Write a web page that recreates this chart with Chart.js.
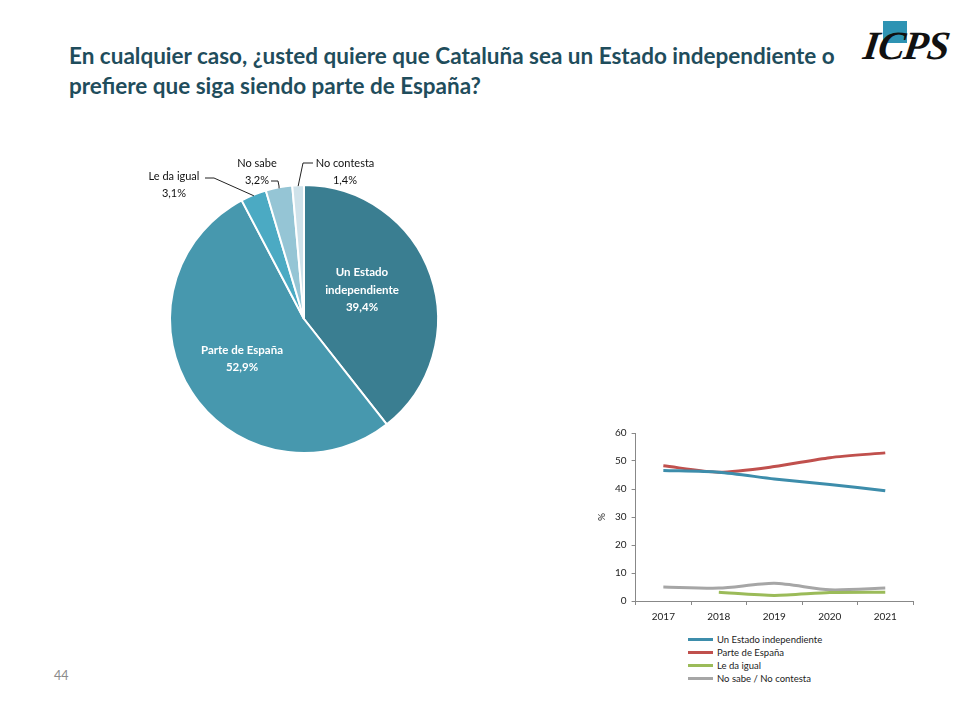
<!DOCTYPE html>
<html><head><meta charset="utf-8">
<script src="https://cdn.jsdelivr.net/npm/chart.js@4"></script>
<style>
html,body{margin:0;padding:0;background:#fff;width:975px;height:708px;overflow:hidden;position:relative;font-family:Lato,"Liberation Sans",sans-serif;}
#title{position:absolute;left:69px;top:41px;width:800px;font-weight:bold;font-size:22.5px;line-height:30px;color:#1f4d5c;}
#logoSq{position:absolute;left:883px;top:21px;width:24px;height:22px;background:#2e93b3;}
#logoTx{position:absolute;left:864px;top:22px;font-family:"Liberation Serif",serif;font-style:italic;font-weight:bold;font-size:40px;color:#111;letter-spacing:-1px;transform:skewX(-8deg);}
#page{position:absolute;left:54px;top:668px;font-size:12.5px;color:#8a8a8a;}
#pieBox{position:absolute;left:120px;top:140px;width:370px;height:340px;}
#lineBox{position:absolute;left:596px;top:422px;width:325px;height:207px;}
#legend{position:absolute;left:688px;top:633px;font-size:9.5px;color:#222;line-height:13px;}
#legend .it{display:flex;align-items:center;height:13px;}
#legend .ln{width:25px;height:3px;margin-right:4px;}
</style></head><body>
<div id="title">En cualquier caso, ¿usted quiere que Cataluña sea un Estado independiente o prefiere que siga siendo parte de España?</div>
<div id="logoSq"></div><div id="logoTx">ICPS</div>
<div id="page">44</div>
<div id="pieBox"><canvas id="pie"></canvas></div>
<div id="lineBox"><canvas id="line"></canvas></div>
<div id="legend"></div>
<script>
// ---- Pie data (2021) ----
const pieLabels = ["Un Estado independiente", "Parte de España", "Le da igual", "No sabe", "No contesta"];
const pieValues = [39.4, 52.9, 3.1, 3.2, 1.4];
const pieColors = ["#3a7e91", "#4798ae", "#4baac3", "#95c5d5", "#cfe2ea"];

// ---- Line data ----
const years = ["2017", "2018", "2019", "2020", "2021"];
const seriesIndep = [46.6, 46.0, 43.6, 41.6, 39.4];
const seriesEspana = [48.3, 46.0, 48.0, 51.2, 52.9];
const seriesIgual = [null, 3.1, 2.0, 3.0, 3.1];
const seriesNsNc = [5.0, 4.6, 6.3, 4.0, 4.6];
const lineNames = ["Un Estado independiente", "Parte de España", "Le da igual", "No sabe / No contesta"];
const lineColors = ["#3d8dab", "#c0504d", "#9bbb59", "#a6a6a6"];

const fmt = v => v.toFixed(1).replace('.', ',') + '%';

// inside labels: lines of text per slice (for big slices), offsets from centre
const insideLines = {0: ["Un Estado", "independiente"], 1: ["Parte de España"]};
const insidePos = {0: [58, -29], 1: [-62, 40]};
// outside labels: text anchor offsets and leader config
const outsideCfg = {
  2: {name: "Le da igual", tx: -130, ty: -143, line: [[-99,-141],[-90,-141]]},
  3: {name: "No sabe", tx: -47, ty: -156, line: [[-33,-138],[-26,-138],[-25,-133]]},
  4: {name: "No contesta", tx: 41, ty: -156, line: [[9,-156],[-1,-156]]}
};

const pieLabelPlugin = {
  id: 'pieLabels',
  afterDatasetsDraw(chart) {
    const ctx = chart.ctx;
    const meta = chart.getDatasetMeta(0);
    ctx.save();
    ctx.textAlign = 'center';
    ctx.textBaseline = 'middle';
    meta.data.forEach((arc, i) => {
      const p = arc.getProps(['x','y','startAngle','endAngle','outerRadius'], true);
      const mid = (p.startAngle + p.endAngle) / 2;
      const val = chart.data.datasets[0].data[i];
      if (insideLines[i]) {
        const cx = p.x + insidePos[i][0];
        const cy = p.y + insidePos[i][1];
        const lines = insideLines[i].concat([fmt(val)]);
        ctx.fillStyle = '#ffffff';
        ctx.font = 'bold 11.5px Lato, "Liberation Sans", sans-serif';
        const h = 17.5;
        lines.forEach((t, k) => ctx.fillText(t, cx, cy + (k - (lines.length - 1) / 2) * h));
      } else if (outsideCfg[i]) {
        const c = outsideCfg[i];
        const ex = p.x + Math.cos(mid) * (p.outerRadius - 1);
        const ey = p.y + Math.sin(mid) * (p.outerRadius - 1);
        ctx.strokeStyle = '#222';
        ctx.lineWidth = 1;
        ctx.beginPath();
        ctx.moveTo(ex, ey);
        const pts = c.line.slice().reverse();
        pts.forEach(q => ctx.lineTo(p.x + q[0], p.y + q[1]));
        ctx.stroke();
        ctx.fillStyle = '#111';
        ctx.font = '11px Lato, "Liberation Sans", sans-serif';
        ctx.fillText(c.name, p.x + c.tx, p.y + c.ty);
        ctx.fillText(fmt(val), p.x + c.tx, p.y + c.ty + 17);
      }
    });
    ctx.restore();
  }
};

new Chart(document.getElementById('pie'), {
  type: 'pie',
  data: {labels: pieLabels, datasets: [{data: pieValues, backgroundColor: pieColors, borderColor: '#ffffff', borderWidth: 2}]},
  options: {
    responsive: true, maintainAspectRatio: false, animation: false,
    layout: {padding: {left: 49, right: 51, top: 44, bottom: 26}},
    plugins: {legend: {display: false}, tooltip: {enabled: false}}
  },
  plugins: [pieLabelPlugin]
});

const lineData = [seriesIndep, seriesEspana, seriesIgual, seriesNsNc];
const lineChart = new Chart(document.getElementById('line'), {
  type: 'line',
  data: {
    labels: years,
    datasets: lineNames.map((n, i) => ({
      label: n, data: lineData[i], borderColor: lineColors[i], backgroundColor: lineColors[i],
      borderWidth: 3, pointRadius: 0, tension: 0.25, spanGaps: false, fill: false
    }))
  },
  options: {
    responsive: true, maintainAspectRatio: false, animation: false,
    layout: {padding: {left: 0, right: 8, top: 1, bottom: 0}},
    plugins: {legend: {display: false}, tooltip: {enabled: false}},
    scales: {
      x: {
        offset: true,
        grid: {display: true, offset: true, drawOnChartArea: false, drawTicks: true, tickLength: 4, color: '#888'},
        border: {display: true, color: '#888', width: 1},
        ticks: {color: '#222', font: {family: 'Lato', size: 10}, padding: 6, maxRotation: 0}
      },
      y: {
        min: 0, max: 60,
        grid: {display: true, drawOnChartArea: false, drawTicks: true, tickLength: 4, color: '#888'},
        border: {display: true, color: '#888', width: 1},
        ticks: {stepSize: 10, color: '#222', font: {family: 'Lato', size: 10}, padding: 5},
        title: {display: true, text: '%', color: '#222', font: {family: 'Lato', size: 10}, padding: {top: 0, bottom: 2}}
      }
    }
  }
});

// HTML legend built from the datasets
const leg = document.getElementById('legend');
lineChart.data.datasets.forEach(ds => {
  const it = document.createElement('div'); it.className = 'it';
  const ln = document.createElement('div'); ln.className = 'ln'; ln.style.background = ds.borderColor;
  const tx = document.createElement('span'); tx.textContent = ds.label;
  it.appendChild(ln); it.appendChild(tx); leg.appendChild(it);
});
</script>
</body></html>
